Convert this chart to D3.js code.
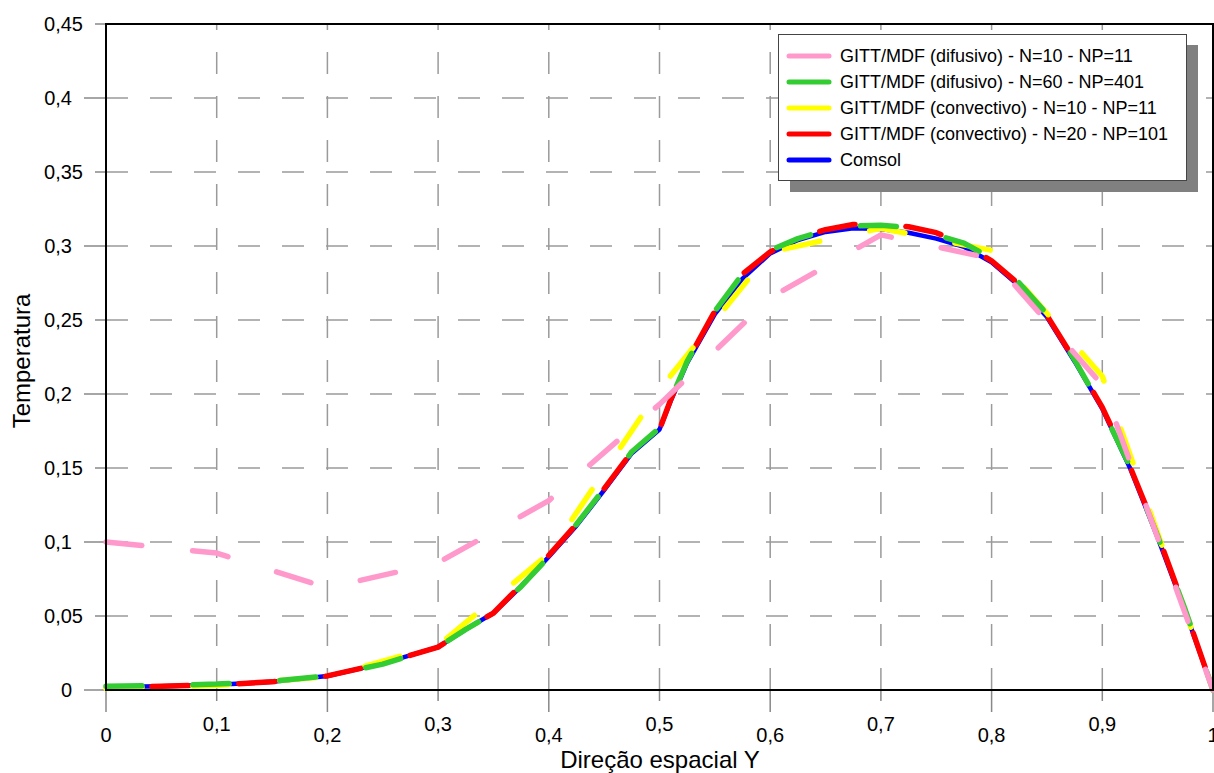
<!DOCTYPE html>
<html lang="pt">
<head>
<meta charset="UTF-8">
<title>Temperatura - Direção espacial Y</title>
<style>
  body { margin: 0; background: #fff; }
  svg { display: block; font-family: "Liberation Sans", Arial, sans-serif; }
</style>
</head>
<body>
<div id="chart"></div>
<script src="https://d3js.org/d3.v7.min.js"></script>
<script>
// posições ao longo de Y (malha fina) e valores de temperatura
const posFine = [0, 0.05, 0.1, 0.15, 0.2, 0.25, 0.3, 0.325, 0.35, 0.375, 0.4, 0.425, 0.45, 0.475,
    0.5, 0.51, 0.525, 0.55, 0.575, 0.6, 0.625, 0.65, 0.675, 0.7, 0.725, 0.75, 0.775, 0.8,
    0.825, 0.85, 0.875, 0.9, 0.925, 0.95, 0.975, 1];
const comsol = [0.002, 0.0025, 0.0035, 0.0055, 0.0095, 0.018, 0.029, 0.041, 0.052, 0.070, 0.090, 0.111, 0.135, 0.160,
    0.176, 0.195, 0.221, 0.254, 0.278, 0.295, 0.304, 0.3095, 0.312, 0.3115, 0.309, 0.305, 0.2995, 0.289,
    0.273, 0.252, 0.222, 0.19, 0.15, 0.103, 0.053, 0];
const difusivoN60 = [0.0025, 0.003, 0.004, 0.006, 0.0095, 0.0175, 0.029, 0.041, 0.052, 0.070, 0.090, 0.112, 0.136, 0.161,
    0.177, 0.196, 0.222, 0.256, 0.281, 0.297, 0.305, 0.3105, 0.3135, 0.314, 0.3125, 0.3075, 0.302, 0.2915,
    0.275, 0.254, 0.223, 0.19, 0.151, 0.104, 0.054, 0];
const convectivoN20 = [0.0015, 0.0025, 0.0035, 0.0055, 0.0095, 0.018, 0.029, 0.041, 0.052, 0.071, 0.091, 0.112, 0.136, 0.161,
    0.176, 0.196, 0.222, 0.256, 0.281, 0.296, 0.3055, 0.311, 0.3145, 0.3145, 0.313, 0.309, 0.301, 0.29,
    0.274, 0.253, 0.223, 0.191, 0.151, 0.105, 0.054, 0];

// malha grossa (NP=11)
const pos11 = [0, 0.1, 0.2, 0.3, 0.4, 0.5, 0.6, 0.7, 0.8, 0.9, 1];
const difusivoN10 = [0.1, 0.0925, 0.069, 0.086, 0.128, 0.193, 0.265, 0.3075, 0.2915, 0.206, 0];
const convectivoN10 = [0.001, 0.003, 0.009, 0.03, 0.092, 0.203, 0.296, 0.312, 0.297, 0.212, 0];

const xTicks = [0, 0.1, 0.2, 0.3, 0.4, 0.5, 0.6, 0.7, 0.8, 0.9, 1];
const yTicks = [0, 0.05, 0.1, 0.15, 0.2, 0.25, 0.3, 0.35, 0.4, 0.45];

const legendLabels = [
    "GITT/MDF (difusivo) - N=10 - NP=11",
    "GITT/MDF (difusivo) - N=60 - NP=401",
    "GITT/MDF (convectivo) - N=10 - NP=11",
    "GITT/MDF (convectivo) - N=20 - NP=101",
    "Comsol"
];
const legendColors = ["#ff99cc", "#33cc33", "#ffff00", "#ff0000", "#0000ff"];

const width = 1214;
const height = 773;
const x = d3.scaleLinear().domain([0, 1]).range([106, 1213]);
const y = d3.scaleLinear().domain([0, 0.45]).range([690, 24]);
const fmt = d3.formatLocale({ decimal: ",", thousands: ".", grouping: [3], currency: ["", ""] }).format("~g");

const svg = d3.select("#chart")
    .append("svg")
    .attr("width", width)
    .attr("height", height);

// grade tracejada
const grid = svg.append("g").attr("stroke", "#9a9a9a").attr("stroke-width", 1.5).attr("stroke-dasharray", "22,22");
grid.selectAll("line.h")
    .data(yTicks.filter(d => d > 0 && d < 0.45))
    .enter().append("line")
    .attr("x1", x(0)).attr("x2", x(1))
    .attr("y1", d => y(d)).attr("y2", d => y(d));
grid.selectAll("line.v")
    .data(xTicks.filter(d => d > 0 && d < 1))
    .enter().append("line")
    .attr("x1", d => x(d)).attr("x2", d => x(d))
    .attr("y1", y(0)).attr("y2", y(0.45));

// marcas dos eixos (alternam comprimento)
svg.append("g").selectAll("line")
    .data(yTicks)
    .enter().append("line")
    .attr("stroke", "#888").attr("stroke-width", 1.5)
    .attr("x1", (d, i) => i % 2 === 0 ? x(0) - 22 : x(0) - 11)
    .attr("x2", x(0))
    .attr("y1", d => y(d)).attr("y2", d => y(d));
svg.append("g").selectAll("line")
    .data(xTicks)
    .enter().append("line")
    .attr("stroke", "#888").attr("stroke-width", 1.5)
    .attr("x1", d => x(d)).attr("x2", d => x(d))
    .attr("y1", y(0))
    .attr("y2", (d, i) => i % 2 === 0 ? y(0) + 22 : y(0) + 11);

// rótulos
svg.append("g").selectAll("text")
    .data(yTicks)
    .enter().append("text")
    .attr("x", (d, i) => i % 2 === 0 ? x(0) - 34 : x(0) - 23)
    .attr("y", d => y(d))
    .attr("dy", "0.36em")
    .attr("text-anchor", "end")
    .attr("font-size", 20)
    .text(d => fmt(d));
svg.append("g").selectAll("text")
    .data(xTicks)
    .enter().append("text")
    .attr("x", d => x(d))
    .attr("y", (d, i) => i % 2 === 0 ? 742 : 731)
    .attr("text-anchor", "middle")
    .attr("font-size", 20)
    .text(d => fmt(d));

svg.append("text")
    .attr("x", 660).attr("y", 768)
    .attr("text-anchor", "middle")
    .attr("font-size", 24)
    .text("Direção espacial Y");
svg.append("text")
    .attr("transform", "translate(30,361) rotate(-90)")
    .attr("text-anchor", "middle")
    .attr("font-size", 24)
    .text("Temperatura");

// séries (Comsol por baixo, como no original)
const series = [
    { xs: posFine, ys: comsol, color: legendColors[4], width: 4.5, dash: null, offset: 0 },
    { xs: posFine, ys: convectivoN20, color: legendColors[3], width: 5.5, dash: "36,51", offset: 41 },
    { xs: pos11, ys: convectivoN10, color: legendColors[2], width: 5.5, dash: "36,51", offset: 0 },
    { xs: posFine, ys: difusivoN60, color: legendColors[1], width: 5.5, dash: "36,51", offset: 0 },
    { xs: pos11, ys: difusivoN10, color: legendColors[0], width: 5.5, dash: "36,51", offset: 0 }
];

const line = d3.line().x(d => x(d[0])).y(d => y(d[1]));

svg.append("g").selectAll("path")
    .data(series)
    .enter().append("path")
    .attr("fill", "none")
    .attr("stroke", d => d.color)
    .attr("stroke-width", d => d.width)
    .attr("stroke-linecap", d => d.dash ? "round" : "butt")
    .attr("stroke-linejoin", "round")
    .attr("stroke-dasharray", d => d.dash)
    .attr("stroke-dashoffset", d => d.offset)
    .attr("d", d => line(d.xs.map((v, i) => [v, d.ys[i]])));

// moldura
svg.append("path")
    .attr("fill", "none")
    .attr("stroke", "#000")
    .attr("stroke-width", 2)
    .attr("d", `M${x(0)},${y(0)}H${x(1)}V${y(0.45)}H${x(0)}Z`);

// legenda
const legend = svg.append("g");
legend.append("rect")
    .attr("x", 790).attr("y", 45).attr("width", 408).attr("height", 147)
    .attr("fill", "#808080");
legend.append("rect")
    .attr("x", 778.5).attr("y", 34.5).attr("width", 408).attr("height", 146)
    .attr("fill", "#fff").attr("stroke", "#444").attr("stroke-width", 1);
const items = legend.selectAll("g.item")
    .data(legendLabels)
    .enter().append("g")
    .attr("transform", (d, i) => `translate(0,${56 + i * 26})`);
items.append("line")
    .attr("x1", 789).attr("x2", 829)
    .attr("stroke", (d, i) => legendColors[i])
    .attr("stroke-width", 5)
    .attr("stroke-linecap", "round");
items.append("text")
    .attr("x", 840)
    .attr("dy", "0.36em")
    .attr("font-size", 18)
    .text(d => d);
</script>
</body>
</html>
